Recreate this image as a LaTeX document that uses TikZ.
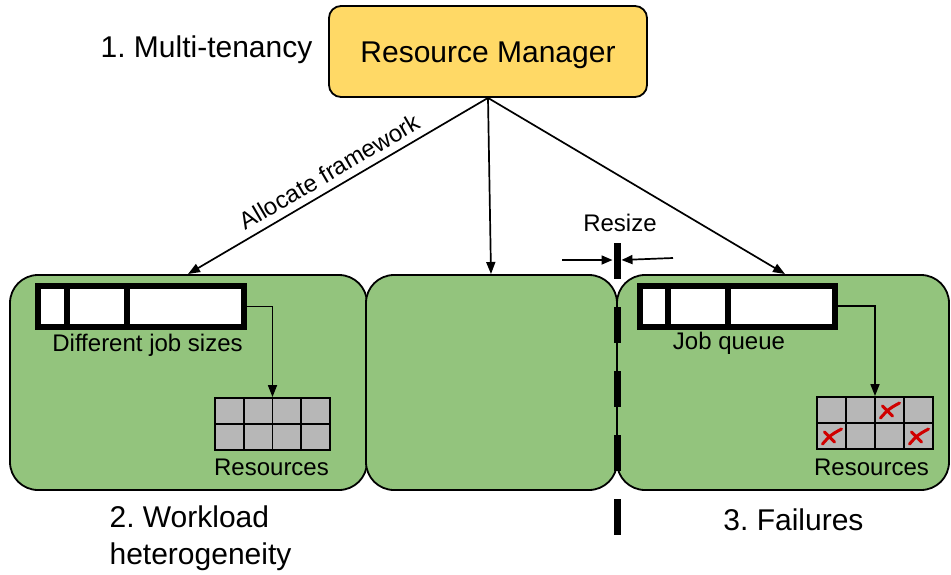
\documentclass[tikz,border=0pt]{standalone}
\usepackage{fontspec}
\setmainfont{Liberation Sans}
\usetikzlibrary{arrows.meta}
\frenchspacing
\definecolor{rmyellow}{HTML}{FFD966}
\definecolor{boxgreen}{HTML}{93C47D}
\definecolor{cellgray}{HTML}{B7B7B7}
\definecolor{xred}{HTML}{D00000}
\begin{document}
\begin{tikzpicture}[x=1pt,y=-1pt,
  bigfont/.style={font=\fontsize{30}{37}\selectfont},
  smallfont/.style={font=\fontsize{24}{29}\selectfont},
  greenbox/.style={draw=black, line width=1.8pt, fill=boxgreen, rounded corners=28pt, inner sep=0pt},
  queuebar/.style={draw=black, line width=6pt, fill=white, inner sep=0pt, minimum width=206pt, minimum height=41pt},
  cellgrid/.style={draw=black, line width=1.8pt, fill=cellgray, inner sep=0pt, minimum width=115pt, minimum height=52pt},
  gridline/.style={line width=1.8pt},
  conn/.style={line width=1.7pt, -{Triangle[length=12pt,width=9pt]}},
  resizearrow/.style={line width=1.7pt, -{Triangle[length=11pt,width=9pt]}},
  crossline/.style={draw=xred, line width=3pt, line cap=round},
  lbl/.style={inner sep=0pt}
]
\useasboundingbox (0,0) rectangle (951,574);

% green containers
\node[greenbox, minimum width=357pt, minimum height=215pt] (b1) at (188.5,382.5) {};
\node[greenbox, minimum width=251pt, minimum height=215pt] (b2) at (491.5,382.5) {};
\node[greenbox, minimum width=332pt, minimum height=215pt] (b3) at (783,382.5) {};

% resource manager
\node[draw=black, line width=1.8pt, fill=rmyellow, rounded corners=12pt,
      minimum width=318pt, minimum height=91pt, text height=21.5pt, text depth=0pt, bigfont] (rm) at (488,51.5) {Resource Manager};
\node[lbl, bigfont, text height=21.5pt, text depth=0pt] (mt) at (206.5,47) {1. Multi-tenancy};

% arrow ends on containers
\coordinate (e1) at (188,274);
\coordinate (e2) at (491,274);
\coordinate (e3) at (785,274);
\draw[conn] (rm.south) -- node[sloped, above, pos=0.5, smallfont, inner sep=7pt] {Allocate framework} (e1);
\draw[conn] (rm.south) -- (e2);
\draw[conn] (rm.south) -- (e3);

% box 1 content
\node[queuebar] (q1) at (141,306.5) {};
\draw[line width=6pt] (67,286) -- (67,327);
\draw[line width=6pt] (127,286) -- (127,327);
\node[lbl, smallfont] (t1) at (147.5,345) {Different job sizes};
\node[cellgrid] (g1) at (272.5,424) {};
\foreach \i in {1,2,3} \draw[gridline] (215+28.75*\i,398) -- (215+28.75*\i,450);
\draw[gridline] (215,424) -- (330,424);
\node[lbl, smallfont] (r1) at (271.5,467) {Resources};
\draw[conn] (q1.east) -| (g1.north);

% box 3 content
\node[queuebar, minimum width=195pt] (q3) at (737.5,306) {};
\draw[line width=6pt] (668,286) -- (668,326);
\draw[line width=6pt] (728,286) -- (728,326);
\node[lbl, smallfont] (t3) at (729,343) {Job queue};
\node[cellgrid, minimum width=116pt] (g3) at (875,423) {};
\foreach \i in {1,2,3} \draw[gridline] (817+29*\i,397) -- (817+29*\i,449);
\draw[gridline] (817,423) -- (933,423);
\node[lbl, smallfont] (r3) at (871.5,467) {Resources};
\draw[conn] (q3.east) -| (g3.north);

% failure crosses
\foreach \cx/\cy in {889.5/410, 831.5/436, 918.5/436} {
  \draw[crossline] (\cx-9,\cy+8) .. controls (\cx-1,\cy-1) .. (\cx+10,\cy-7);
  \draw[crossline] (\cx-7,\cy-4) -- (\cx+3,\cy+6);
}

% resize boundary
\draw[line width=7pt, dash pattern=on 36pt off 28pt] (617,243) -- (617,535);
\coordinate (rl) at (562,260);
\coordinate (rlt) at (612.5,260);
\coordinate (rr) at (673,258);
\coordinate (rrt) at (621.5,260);
\draw[resizearrow] (rl) -- (rlt);
\draw[resizearrow] (rr) -- (rrt);
\node[lbl, smallfont] (rs) at (620,223) {Resize};

% bottom labels
\node[lbl, bigfont, align=left] (wl) at (200.5,538.5) {2. Workload\\heterogeneity};
\node[lbl, bigfont] (fl) at (793.5,520) {3. Failures};
\end{tikzpicture}
\end{document}
